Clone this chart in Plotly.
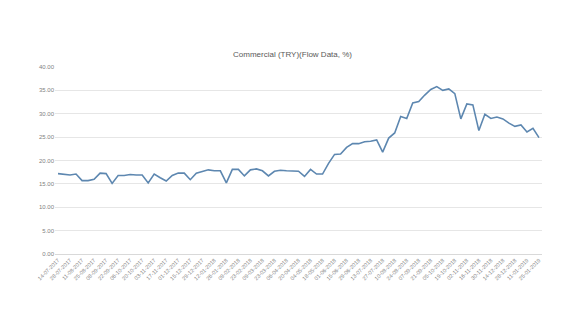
import plotly.graph_objects as go
import pandas as pd

title = "Commercial (TRY)(Flow Data, %)"
dates = [d.strftime("%d-%m-%Y") for d in pd.date_range("2017-07-14", "2019-01-25", freq="7D")]
values = [17.2, 17.0, 16.9, 17.1, 15.7, 15.7, 16.0, 17.3, 17.2, 15.1,
          16.8, 16.8, 17.0, 16.9, 16.9, 15.2, 17.1, 16.3, 15.6, 16.8,
          17.3, 17.3, 15.9, 17.3, 17.6, 18.0, 17.8, 17.8, 15.2, 18.1,
          18.1, 16.7, 18.0, 18.2, 17.8, 16.7, 17.7, 17.9, 17.8, 17.7,
          17.7, 16.6, 18.1, 17.1, 17.1, 19.4, 21.3, 21.4, 22.8, 23.6,
          23.6, 24.0, 24.1, 24.4, 21.8, 24.8, 25.9, 29.4, 29.0, 32.3,
          32.6, 34.0, 35.2, 35.8, 35.0, 35.3, 34.3, 28.9, 32.1, 31.9,
          26.4, 29.9, 29.0, 29.3, 28.9, 28.0, 27.3, 27.6, 26.1, 26.9,
          24.9]
y_ticks = [0, 5, 10, 15, 20, 25, 30, 35, 40]

fig = go.Figure()
fig.add_trace(go.Scatter(x=dates, y=values, mode="lines",
                         line=dict(color="#5d87b0", width=1.6)))
fig.update_layout(
    width=585, height=329,
    margin=dict(l=55, r=43, t=67, b=75),
    paper_bgcolor="white", plot_bgcolor="white",
    showlegend=False,
    font=dict(family="Liberation Sans, Arial, sans-serif", color="#7f7f7f", size=6),
    title=dict(text=title, x=0.5, xanchor="center", y=1 - 54/329, yanchor="middle",
               font=dict(size=8, color="#595959")),
)
fig.update_xaxes(type="category", range=[-0.5, len(dates) - 0.5],
                 tickvals=dates[::2], ticktext=dates[::2], tickangle=-45,
                 tickfont=dict(size=5.5, color="#7f7f7f"),
                 showgrid=False, showline=True, linecolor="#d9d9d9", linewidth=1,
                 ticks="", zeroline=False)
fig.update_yaxes(range=[0, 40], tickvals=y_ticks,
                 ticktext=[f"{v:.2f}" for v in y_ticks],
                 tickfont=dict(size=6, color="#7f7f7f"),
                 showgrid=True, gridcolor="#e6e6e6", gridwidth=1,
                 zeroline=False, showline=False, ticks="", ticklen=4)
fig.write_html("out.html")
